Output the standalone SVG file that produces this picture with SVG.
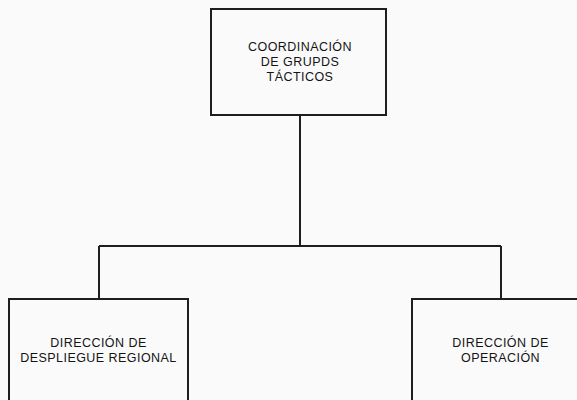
<svg xmlns="http://www.w3.org/2000/svg" width="577" height="400" viewBox="0 0 577 400">
  <style>
    .box { fill: none; stroke: #1e1e1e; stroke-width: 2; }
    .wire { fill: none; stroke: #1e1e1e; stroke-width: 2; }
    .lbl { font-family: "Liberation Sans", Arial, sans-serif; font-size: 12.5px; letter-spacing: 0.45px; fill: #141414; text-anchor: middle; }
  </style>
  <rect width="577" height="400" fill="#fafafa"/>

  <g id="connectors">
    <path class="wire" d="M300 115 V246"/>
    <path class="wire" d="M99 246 H501"/>
    <path class="wire" d="M99 246 V299"/>
    <path class="wire" d="M501 246 V299"/>
  </g>

  <g id="coordinacion">
    <rect class="box" x="211" y="9" width="175" height="106"/>
    <text class="lbl" x="300" y="50.5">COORDINACIÓN</text>
    <text class="lbl" x="300" y="66">DE GRUPDS</text>
    <text class="lbl" x="300" y="81">TÁCTICOS</text>
  </g>

  <g id="despliegue">
    <rect class="box" x="9" y="299" width="179" height="120"/>
    <text class="lbl" x="98.5" y="346.5">DIRECCIÓN DE</text>
    <text class="lbl" x="98.5" y="361.5">DESPLIEGUE REGIONAL</text>
  </g>

  <g id="operacion">
    <rect class="box" x="412" y="299" width="180" height="120"/>
    <text class="lbl" x="500.5" y="347">DIRECCIÓN DE</text>
    <text class="lbl" x="500.5" y="362">OPERACIÓN</text>
  </g>
</svg>
